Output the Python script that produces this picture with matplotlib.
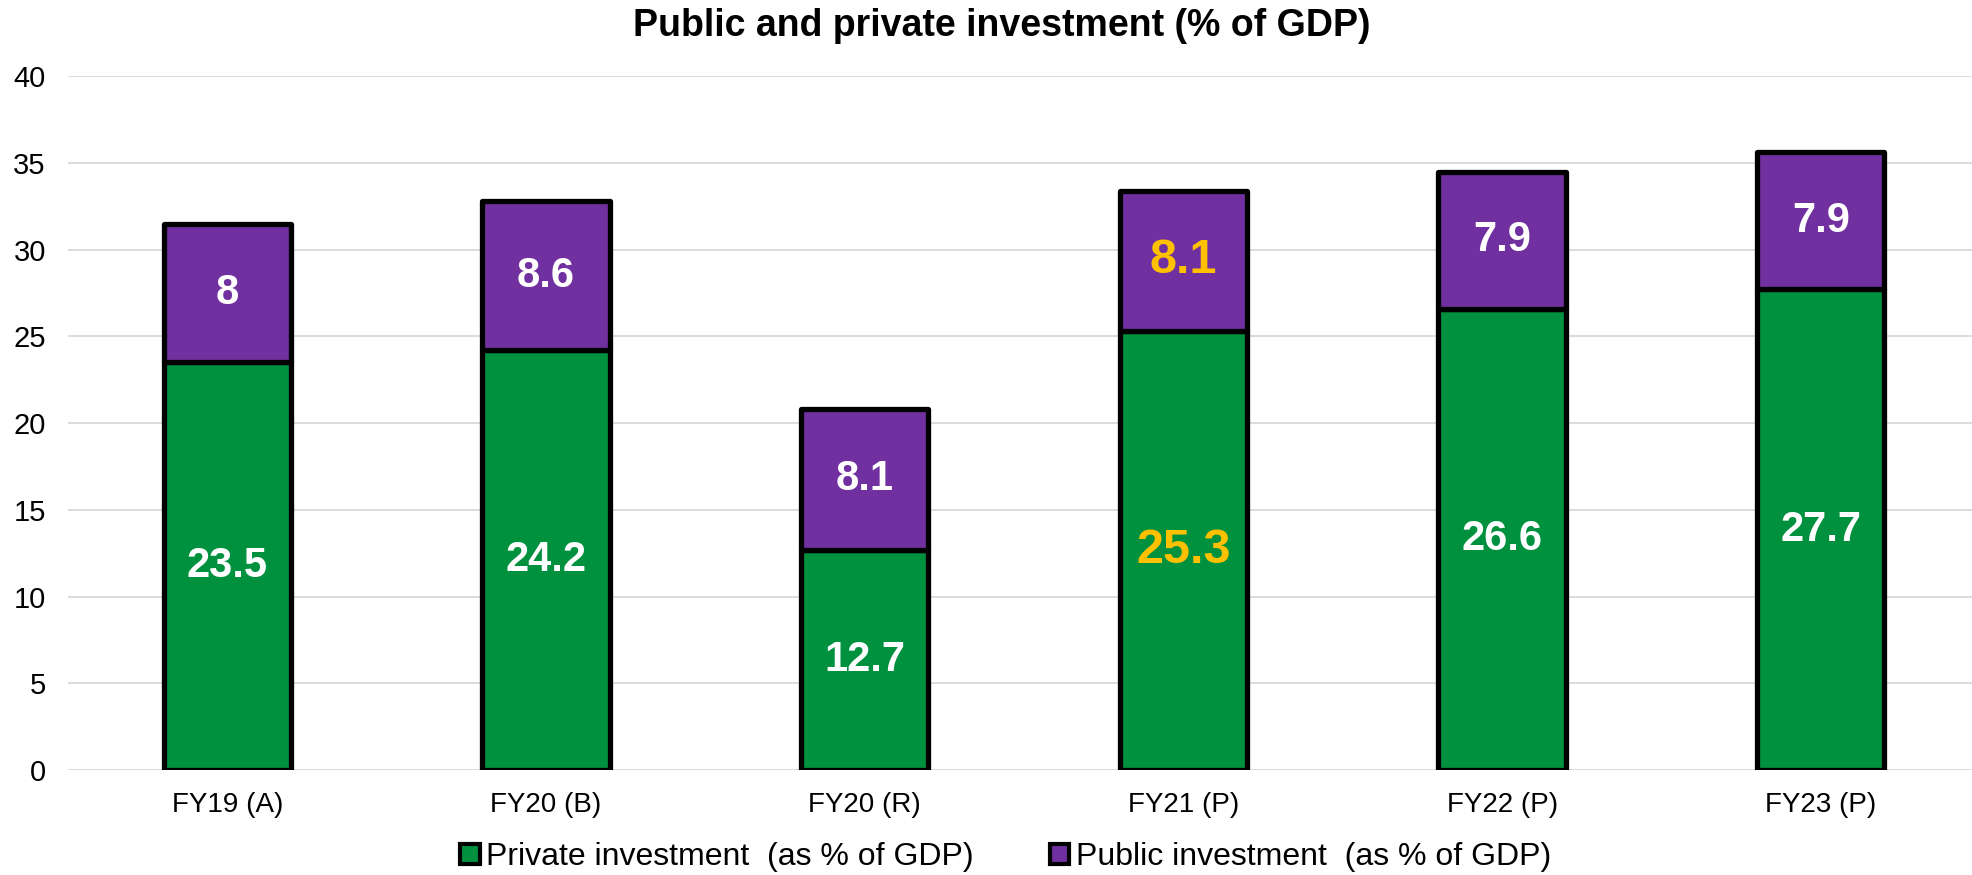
import numpy as np
import matplotlib
matplotlib.use("Agg")
import matplotlib.pyplot as plt
from matplotlib.patches import Patch

plt.rcParams['font.family'] = ['Liberation Sans', 'DejaVu Sans']

# investment shares, % of GDP
years = ['FY19 (A)', 'FY20 (B)', 'FY20 (R)', 'FY21 (P)', 'FY22 (P)', 'FY23 (P)']
private = [23.5, 24.2, 12.7, 25.3, 26.6, 27.7]
public = [8, 8.6, 8.1, 8.1, 7.9, 7.9]

green = '#00913F'
purple = '#7030A0'
gold = '#FFC000'

fig = plt.figure(figsize=(19.72, 8.75), dpi=100)
ax = fig.add_axes([0.0345, 0.12, 0.9696, 0.793])

x = np.arange(len(years))
w = 0.40
b1 = ax.bar(x, private, w, color=green, edgecolor='black', linewidth=3.8, zorder=3)
b2 = ax.bar(x, public, w, bottom=private, color=purple, edgecolor='black',
            linewidth=3.8, zorder=3)
for p in list(b1) + list(b2):
    p.set_joinstyle('round')

# value labels, FY21 highlighted
for i in range(len(years)):
    if years[i] == 'FY21 (P)':
        col, fs = gold, 35
    else:
        col, fs = 'white', 30
    ax.text(x[i], private[i] / 2, str(private[i]), ha='center', va='center',
            color=col, fontsize=fs, fontweight='bold', zorder=4)
    ax.text(x[i], private[i] + public[i] / 2, str(public[i]), ha='center',
            va='center', color=col, fontsize=fs, fontweight='bold', zorder=4)

ax.set_xlim(-0.5, len(years) - 0.5)
ax.set_ylim(0, 40)
ax.set_yticks(np.arange(0, 41, 5))
ax.set_xticks(x)
ax.set_xticklabels(years, fontsize=20)
ax.tick_params(axis='y', labelsize=21, length=0, pad=16)
ax.tick_params(axis='x', length=0, pad=16)
ax.yaxis.grid(True, color='#D9D9D9', linewidth=1.3, zorder=0)
ax.set_axisbelow(True)
for s in ax.spines.values():
    s.set_visible(False)

fig.text(0.508, 0.970, 'Public and private investment (% of GDP)', ha='center',
         va='center', fontsize=27, fontweight='bold')

handles = [Patch(facecolor=green, edgecolor='black', linewidth=3),
           Patch(facecolor=purple, edgecolor='black', linewidth=3)]
labels = ['Private investment  (as % of GDP)', 'Public investment  (as % of GDP)']
fig.legend(handles, labels, loc='center', bbox_to_anchor=(0.510, 0.02), ncol=2,
           frameon=False, fontsize=23, handlelength=0.6, handleheight=0.6,
           handletextpad=0.2, columnspacing=2.4)

fig.savefig('out.png', dpi=100)
